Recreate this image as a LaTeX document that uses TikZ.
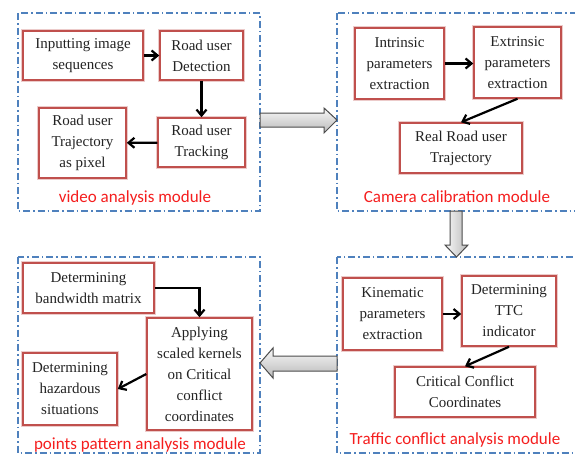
\documentclass[tikz,border=0pt]{standalone}
\usepackage{fontspec}
\setmainfont{Liberation Serif}
\newfontfamily\labelfont{Carlito}
\usetikzlibrary{arrows.meta}
\definecolor{boxred}{RGB}{192,80,77}
\definecolor{modblue}{RGB}{79,129,189}
\definecolor{labred}{RGB}{245,30,30}
\definecolor{txt}{RGB}{35,35,35}
\begin{document}
\begin{tikzpicture}[x=1pt,y=-1pt,
 procbox/.style={draw=boxred, line width=1.5pt, preaction={draw=boxred!30, line width=3.5pt}, fill=white, align=center, font=\fontsize{15}{21}\selectfont, text=txt, inner sep=0pt},
 module/.style={draw=modblue, line width=1.4pt, dash pattern=on 7pt off 3pt on 1.5pt off 3pt},
 modlabel/.style={font=\labelfont\fontsize{17}{20}\selectfont, text=labred, inner sep=0pt},
 flow/.style={line width=2.2pt, black, -{Straight Barb[length=6pt,width=10pt]}},
 bigarrow/.style={draw=gray!60!black, line width=1pt}
]
\useasboundingbox (0,0) rectangle (575,455);
\fill[white] (0,0) rectangle (575,455);

% modules
\draw[module] (18,13) rectangle (260,211);
\draw[module] (337,13) rectangle (585,211);
\draw[module] (18,257) rectangle (260,453);
\draw[module] (337,257) rectangle (585,453);

% video analysis module
\node[procbox, minimum width=120, minimum height=49] (a1) at (83,55.5) {Inputting image\\sequences};
\node[procbox, minimum width=83, minimum height=49] (a2) at (201.5,55.5) {Road user\\Detection};
\node[procbox, minimum width=87, minimum height=70] (a3) at (82.5,143) {Road user\\Trajectory\\as pixel};
\node[procbox, minimum width=87, minimum height=49] (a4) at (201.5,142.5) {Road user\\Tracking};
\node[modlabel] (l1) at (135,198) {video analysis module};
\draw[flow] (a1) -- (a2);
\draw[flow] (a2) -- (a4);
\draw[flow] (a4) -- (a3);

% camera calibration module
\node[procbox, minimum width=89, minimum height=71] (b1) at (399.5,63.5) {Intrinsic\\parameters\\extraction};
\node[procbox, minimum width=87, minimum height=71] (b2) at (517.5,62.5) {Extrinsic\\parameters\\extraction};
\node[procbox, minimum width=122, minimum height=50] (b3) at (461,148) {Real Road user\\Trajectory};
\node[modlabel] (l2) at (457,197) {Camera calibration module};
\draw[flow] (b1.east) -- (b1.east -| b2.west);
\draw[flow] (b2.south) -- (b3.north);

% traffic conflict analysis module
\node[procbox, minimum width=99, minimum height=72] (c1) at (392.5,314) {Kinematic\\parameters\\extraction};
\node[procbox, minimum width=94, minimum height=70] (c2) at (509,311) {Determining\\TTC\\indicator};
\node[procbox, minimum width=140, minimum height=50] (c3) at (465,392) {Critical Conflict\\Coordinates};
\node[modlabel] (l4) at (455,440) {Traffic conflict analysis module};
\draw[flow] (c1.east) -- (c1.east -| c2.west);
\draw[flow] (c2.south) -- (c3.north);

% points pattern analysis module
\node[procbox, minimum width=131, minimum height=50] (d1) at (88.5,288) {Determining\\bandwidth matrix};
\node[procbox, minimum width=105, minimum height=112] (d2) at (199.5,374) {Applying\\scaled kernels\\on Critical\\conflict\\coordinates};
\node[procbox, minimum width=94, minimum height=72] (d3) at (70,389) {Determining\\hazardous\\situations};
\node[modlabel] (l3) at (140,445) {points pattern analysis module};
\draw[flow] (d1.east) -| (d2.north);
\draw[flow] (d2.west) -- (d3.east);

% big hollow arrows between modules
\path[bigarrow, top color=gray!5, bottom color=gray!55]
  (260,113) -- (324,113) -- (324,108) -- (337,120) -- (324,133) -- (324,127) -- (260,127) -- cycle;
\path[bigarrow, left color=gray!5, right color=gray!55]
  (450,211) -- (462,211) -- (462,245) -- (468,245) -- (456.5,257) -- (445,245) -- (450,245) -- cycle;
\path[bigarrow, top color=gray!5, bottom color=gray!55]
  (337,356) -- (273,356) -- (273,348) -- (260,363) -- (273,378) -- (273,371) -- (337,371) -- cycle;
\end{tikzpicture}
\end{document}
